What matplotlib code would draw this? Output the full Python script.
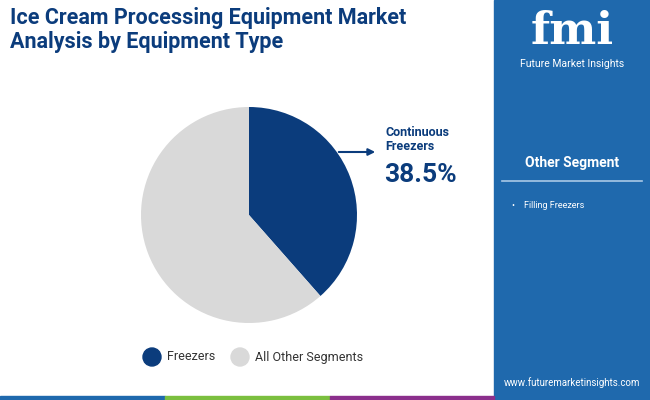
import matplotlib
matplotlib.use('Agg')
import matplotlib.pyplot as plt
from matplotlib.patches import Rectangle

labels = ['Freezers', 'All Other Segments']
shares = [38.5, 61.5]
colors = ['#0b3c7c', '#d9d9d9']
other_segments = ['Filling Freezers']

W, H = 650, 400
fig = plt.figure(figsize=(6.5, 4), dpi=100)
fig.patch.set_facecolor('white')

def fx(x): return x / W
def fy(y): return 1 - y / H

# right panel
fig.patches.append(Rectangle((fx(494), 0), 1 - fx(494), 1, transform=fig.transFigure,
                             color='#1f69ad', zorder=0))
# bottom stripes
for x0, x1, c in [(0, 165, '#1f69ad'), (165, 330, '#7bbf3f'), (330, 494, '#8b2f8c')]:
    fig.patches.append(Rectangle((fx(x0), 0), fx(x1 - x0), 4 / H, transform=fig.transFigure,
                                 color=c, zorder=1))

fig.text(fx(10), fy(30), 'Ice Cream Processing Equipment Market\nAnalysis by Equipment Type',
         fontsize=15.5, fontweight='bold', color='#0b3c7c', va='center', ha='left',
         family='Roboto', linespacing=1.1)

# pie
r = 108
ax = fig.add_axes([fx(249 - r), fy(215 + r), fx(2 * r), 2 * r / H])
ax.pie(shares, colors=colors, startangle=90, counterclock=False, radius=1,
       wedgeprops=dict(linewidth=0), frame=False)
ax.set_xlim(-1, 1)
ax.set_ylim(-1, 1)
ax.set_aspect('auto')
ax.axis('off')

fig.text(fx(385), fy(140), 'Continuous\nFreezers', fontsize=9, fontweight='bold',
         color='#0b3c7c', va='center', family='Roboto', linespacing=1.1)
fig.text(fx(384), fy(175), f'{shares[0]}%', fontsize=19, fontweight='bold',
         color='#0b3c7c', va='center', family='Roboto')
fig.add_artist(matplotlib.patches.FancyArrowPatch((fx(336), fy(152)), (fx(378), fy(152)),
               transform=fig.transFigure, arrowstyle='-|>', mutation_scale=10,
               color='#0b3c7c', lw=1.5))

# legend
for (x, lab, c) in [(152, labels[0], colors[0]), (240, labels[1], colors[1])]:
    fig.patches.append(matplotlib.patches.Ellipse((fx(x), fy(357)), 18 / W, 18 / H,
                       transform=fig.transFigure, color=c))
    fig.text(fx(x + 15), fy(357), lab, fontsize=9, color='#333333', va='center', family='Roboto')

# right panel text
fig.text(fx(572), fy(32), 'fmi', fontsize=32, fontweight='bold', color='white',
         ha='center', va='center', family='DejaVu Serif')
fig.text(fx(572), fy(64), 'Future Market Insights', fontsize=7.5, color='white',
         ha='center', va='center', family='Roboto')
fig.text(fx(572), fy(163), 'Other Segment', fontsize=10, fontweight='bold', color='white',
         ha='center', va='center', family='Roboto')
fig.add_artist(plt.Line2D([fx(502), fx(642)], [fy(181), fy(181)], transform=fig.transFigure,
                          color='#a9c8e6', lw=1.2))
for i, s in enumerate(other_segments):
    fig.text(fx(512), fy(206 + 16 * i), '\u2022    ' + s, fontsize=6.5, color='white',
             va='center', family='Roboto')
fig.text(fx(572), fy(383), 'www.futuremarketinsights.com', fontsize=7, color='white',
         ha='center', va='center', family='Roboto')

fig.savefig('out.png', dpi=100)
